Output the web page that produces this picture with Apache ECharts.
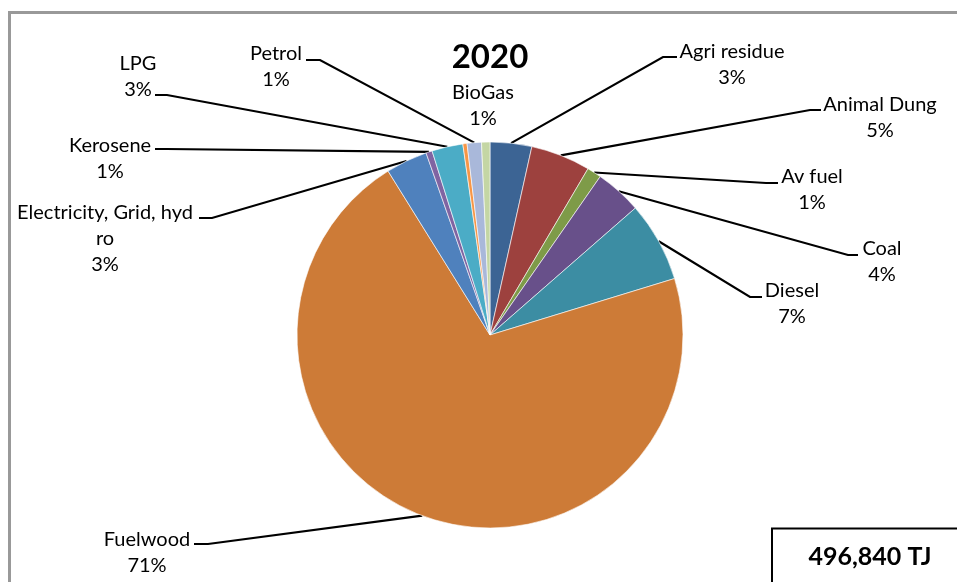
<!DOCTYPE html>
<html>
<head>
<meta charset="utf-8">
<script src="https://cdn.jsdelivr.net/npm/echarts@6/dist/echarts.min.js"></script>
<style>
  html, body { margin: 0; padding: 0; background: #fff; }
  #chart { width: 957px; height: 582px; }
</style>
</head>
<body>
<div id="chart"></div>
<script>
// Energy consumption by fuel, 2020 (TJ)
const year = '2020';
const unit = 'TJ';
const fuels = ['Agri residue', 'Animal Dung', 'Av fuel', 'Coal', 'Diesel', 'Fuelwood',
  'Electricity, Grid, hydro', 'Kerosene', 'LPG', 'Other', 'Petrol', 'BioGas'];
const energyTJ = [17300, 24800, 5960, 19380, 33290, 352120, 17290, 2600, 12920, 1740, 5960, 3480];

// Slice colours, one per fuel
const sliceColors = ['#3C6494', '#9D413E', '#7E9B48', '#68508A', '#3C8DA3', '#CD7B37',
  '#4F81BD', '#8064A2', '#4BACC6', '#F79646', '#A9B8DA', '#C4D6A4'];

// Where each label sits (centre of its text block) and the elbow of its leader line
const labelSpots = {
  'Agri residue':             { at: [732, 65],    elbow: [663, 57],  end: [677, 57] },
  'Animal Dung':              { at: [880, 117.5], elbow: [810, 110], end: [821, 110] },
  'Av fuel':                  { at: [812, 190],   elbow: [766, 183], end: [778, 183] },
  'Coal':                     { at: [882, 262],   elbow: [848, 255], end: [858, 255] },
  'Diesel':                   { at: [792, 304],   elbow: [750, 297], end: [762, 297] },
  'Fuelwood':                 { at: [147, 553],   elbow: [208, 544], end: [194, 544] },
  'Electricity, Grid, hydro': { at: [105, 238.5], elbow: [212, 218], end: [199, 218] },
  'Kerosene':                 { at: [110, 158.5], elbow: [167, 149], end: [155, 149] },
  'LPG':                      { at: [138, 77],    elbow: [167, 95],  end: [155, 95] },
  'Petrol':                   { at: [276, 67],    elbow: [320, 60],  end: [306, 60] },
  'BioGas':                   { at: [483, 106],   elbow: null,       end: null }
};

// Names that wrap inside their label box
const wrappedNames = { 'Electricity, Grid, hydro': 'Electricity, Grid, hyd\nro' };

const total = energyTJ.reduce((a, b) => a + b, 0);

const pieData = fuels.map((name, i) => {
  const spot = labelSpots[name];
  const item = { name: name, value: energyTJ[i], itemStyle: { color: sliceColors[i] } };
  if (!spot) {
    item.label = { show: false };
    item.labelLine = { show: false };
  } else if (!spot.elbow) {
    item.labelLine = { show: false };
  }
  return item;
});

const chart = echarts.init(document.getElementById('chart'), null, { renderer: 'canvas' });

chart.setOption({
  animation: false,
  backgroundColor: '#fff',
  graphic: [
    { type: 'rect', z: 0, shape: { x: 9.5, y: 12.5, width: 1000, height: 1000 },
      style: { fill: 'none', stroke: '#999', lineWidth: 3 } },
    { type: 'text', z: 10, x: 490, y: 57,
      style: { text: year, font: 'bold 33px Lato', fill: '#000', align: 'center', verticalAlign: 'middle' } },
    { type: 'rect', z: 10, shape: { x: 772, y: 528.5, width: 300, height: 100 },
      style: { fill: '#fff', stroke: '#000', lineWidth: 2 } },
    { type: 'text', z: 11, x: 870, y: 557,
      style: { text: total.toLocaleString('en-US') + ' ' + unit, font: 'bold 25px Lato',
        fill: '#000', align: 'center', verticalAlign: 'middle' } }
  ],
  series: [{
    type: 'pie',
    center: [490, 335],
    radius: 193,
    startAngle: 90,
    clockwise: true,
    avoidLabelOverlap: false,
    itemStyle: { borderColor: '#fff', borderWidth: 0.6 },
    label: {
      show: true,
      position: 'outside',
      fontFamily: 'Lato',
      fontSize: 20,
      lineHeight: 26,
      color: '#000',
      formatter: (p) => (wrappedNames[p.name] || p.name) + '\n' + Math.round(p.value / total * 100) + '%'
    },
    labelLine: { show: true, smooth: false, lineStyle: { color: '#000', width: 2.2 } },
    labelLayout: (params) => {
      const spot = labelSpots[fuels[params.dataIndex]];
      if (!spot) return {};
      const out = { x: spot.at[0], y: spot.at[1], align: 'center', verticalAlign: 'middle' };
      if (spot.elbow && params.labelLinePoints) {
        const start = params.labelLinePoints[0];
        out.labelLinePoints = [[start[0], start[1]], spot.elbow.slice(), spot.end.slice()];
      }
      return out;
    },
    emphasis: { disabled: true },
    data: pieData
  }]
});
</script>
</body>
</html>
